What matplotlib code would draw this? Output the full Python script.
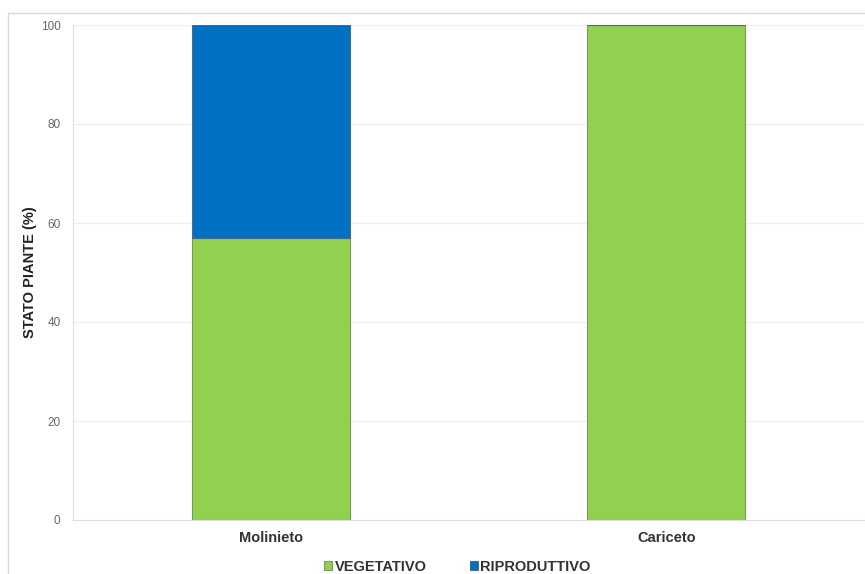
import numpy as np
import matplotlib
matplotlib.use("Agg")
from matplotlib import pyplot as plt
from matplotlib.patches import Rectangle

# data
siti = ["Molinieto", "Cariceto"]
vegetativo = [57, 100]
riproduttivo = [43, 0]
yticks = [0, 20, 40, 60, 80, 100]

verde = "#92D050"
blu = "#0070C0"

plt.rcParams["font.family"] = ["Liberation Sans", "DejaVu Sans"]

fig = plt.figure(figsize=(8.65, 5.74), dpi=100)
fig.patches.append(Rectangle((8/865, -0.01), 1, 1.01 - 13/574, transform=fig.transFigure,
                             fill=False, edgecolor="#d9d9d9", linewidth=1.0))
ax = fig.add_axes([73/865, 54/574, (864-73)/865, (521-26)/574])

x = np.arange(len(siti))
ax.bar(x, vegetativo, width=0.40, color=verde, edgecolor="#7a9a5a", linewidth=0.8,
       label="VEGETATIVO", zorder=3)
ax.bar(x, riproduttivo, width=0.40, bottom=vegetativo, color=blu, edgecolor="#4a6a8a",
       linewidth=0.8, label="RIPRODUTTIVO", zorder=3)

ax.set_xlim(-0.5, 1.5)
ax.set_ylim(0, 100)
ax.set_yticks(yticks)
ax.set_yticklabels([str(v) for v in yticks], fontsize=8.5, color="#666666")
ax.set_xticks(x)
ax.set_xticklabels(siti, fontsize=10.5, fontweight="bold", color="#333333")
ax.tick_params(axis="both", length=0)
ax.tick_params(axis="x", pad=8)
ax.tick_params(axis="y", pad=9)
ax.yaxis.grid(True, color="#eeeeee", linewidth=0.8, zorder=0)
for s in ax.spines.values():
    s.set_color("#dddddd")
    s.set_linewidth(0.8)
ax.spines["right"].set_visible(False)
ax.spines["top"].set_visible(False)

ax.set_ylabel("STATO PIANTE (%)", fontsize=10.5, fontweight="bold", color="#222222")
ax.yaxis.set_label_coords(-36/791, 0.5)

leg = fig.legend(loc="lower center", bbox_to_anchor=(0.529, -0.022), ncol=2, frameon=False,
                 handlelength=0.55, handleheight=0.55, handletextpad=0.15, columnspacing=3.0,
                 prop={"size": 10.5, "weight": "bold"})
for t in leg.get_texts():
    t.set_color("#333333")

fig.savefig("out.png", dpi=100)
